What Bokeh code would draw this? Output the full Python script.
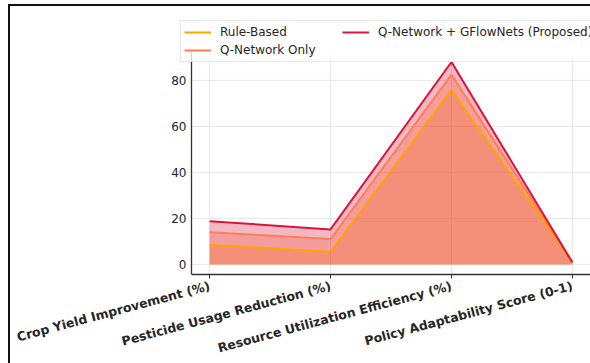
import math
from bokeh.plotting import figure
from bokeh.models import FixedTicker, Legend, LegendItem, Range1d
from bokeh.embed import file_html
from bokeh.resources import INLINE

categories = ["Crop Yield Improvement (%)", "Pesticide Usage Reduction (%)",
              "Resource Utilization Efficiency (%)", "Policy Adaptability Score (0-1)"]
rule_based = [8.5, 5.5, 76.0, 0.75]
q_network = [14.0, 11.0, 82.5, 0.82]
proposed = [18.8, 15.2, 88.0, 0.9]
series_names = ["Rule-Based", "Q-Network Only", "Q-Network + GFlowNets (Proposed)"]
series_colors = ["#FFA500", "#FF7F50", "#DC143C"]
y_ticks = [0, 20, 40, 60, 80]

xs = list(range(len(categories)))
X0, X1 = -0.15, 3.15      # data extent of the axes box
Y0, Y1 = -4.4, 92.4

p = figure(frame_width=420, frame_height=259, output_backend="svg", toolbar_location=None,
           min_border_left=160, min_border_right=0, min_border_top=9, min_border_bottom=84,
           x_range=Range1d(-0.3236, 3.15), y_range=Range1d(-4.4, 108.2))
p.styles = {"margin-left": "8px", "margin-top": "4px",
            "border-left": "2px solid #111", "border-top": "2px solid #111",
            "border-bottom": "2px solid #111"}
p.outline_line_color = None
p.background_fill_color = "white"
p.border_fill_color = "white"
p.xgrid.visible = False
p.ygrid.visible = False

# grid lines limited to the axes box
grid_col = "#e6e6e6"
p.segment(x0=xs, y0=[Y0] * len(xs), x1=xs, y1=[Y1] * len(xs), line_color=grid_col, line_width=1)
p.segment(x0=[X0] * len(y_ticks), y0=y_ticks, x1=[X1] * len(y_ticks), y1=y_ticks,
          line_color=grid_col, line_width=1)

# fills first
for vals, col in zip([rule_based, q_network, proposed], series_colors):
    p.varea(x=xs, y1=[0] * len(xs), y2=vals, fill_color=col, fill_alpha=0.3)

renderers = []
for vals, col in zip([rule_based, q_network, proposed], series_colors):
    r = p.line(xs, vals, line_color=col, line_width=2)
    renderers.append(r)

# axes
p.xaxis.ticker = FixedTicker(ticks=xs)
p.xaxis.bounds = (X0, X1)
p.xaxis.major_label_overrides = {i: c for i, c in enumerate(categories)}
p.xaxis.major_label_orientation = math.radians(15)
p.xaxis.major_label_text_font = "DejaVu Sans"
p.xaxis.major_label_text_font_style = "bold"
p.xaxis.major_label_text_font_size = "12.5px"
p.xaxis.major_label_text_color = "#262626"
p.xaxis.major_tick_out = 4
p.xaxis.major_tick_in = 0
p.xaxis.minor_tick_line_color = None
p.xaxis.axis_line_color = "#333333"
p.xaxis.axis_line_width = 1.3
p.xaxis.major_tick_line_color = "#333333"
p.xaxis.major_label_standoff = 7

p.yaxis.ticker = FixedTicker(ticks=y_ticks)
p.yaxis.fixed_location = X0
p.yaxis.bounds = (Y0, Y1)
p.yaxis.major_label_text_font = "DejaVu Sans"
p.yaxis.major_label_text_font_size = "12px"
p.yaxis.major_label_text_color = "#262626"
p.yaxis.major_tick_out = 0
p.yaxis.major_tick_in = 0
p.yaxis.minor_tick_line_color = None
p.yaxis.axis_line_color = "#333333"
p.yaxis.axis_line_width = 1.3
p.yaxis.major_label_standoff = 5

legend = Legend(items=[LegendItem(label=n, renderers=[r]) for n, r in zip(series_names, renderers)],
                location=(10, 212), ncols=2, orientation="vertical")
legend.label_text_font = "DejaVu Sans"
legend.label_text_font_size = "12px"
legend.label_text_color = "#262626"
legend.glyph_width = 27
legend.glyph_height = 16
legend.label_height = 16
legend.label_width = 120
legend.label_standoff = 9
legend.padding = 3
legend.spacing = 2
legend.margin = 0
legend.border_line_color = "#d0d0d0"
legend.background_fill_alpha = 0.8
p.add_layout(legend)

open("out.html", "w").write(file_html(p, INLINE))
